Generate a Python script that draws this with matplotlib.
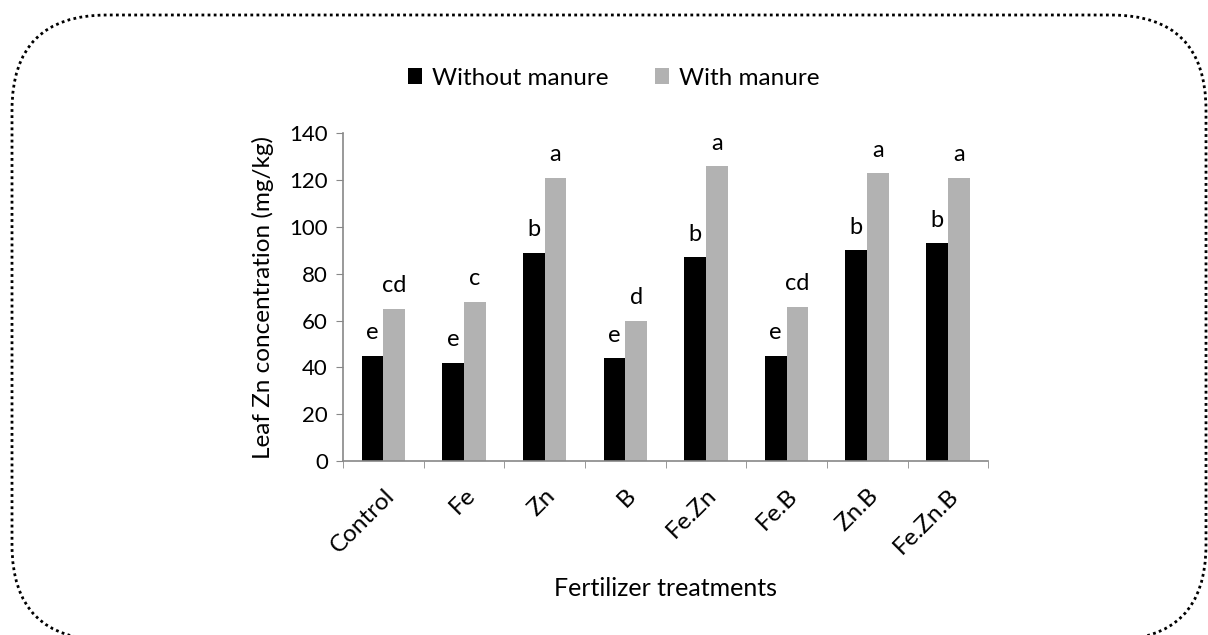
import numpy as np
import matplotlib
matplotlib.use("Agg")
import matplotlib.pyplot as plt
from matplotlib.patches import FancyBboxPatch

plt.rcParams['font.family'] = ['Lato', 'DejaVu Sans']

treatments = ['Control', 'Fe', 'Zn', 'B', 'Fe.Zn', 'Fe.B', 'Zn.B', 'Fe.Zn.B']
without_manure = [45, 42, 89, 44, 87, 45, 90, 93]
with_manure = [65, 68, 121, 60, 126, 66, 123, 121]
letters_without = ['e', 'e', 'b', 'e', 'b', 'e', 'b', 'b']
letters_with = ['cd', 'c', 'a', 'd', 'a', 'cd', 'a', 'a']

fig = plt.figure(figsize=(12.08, 6.35), dpi=100)
ax = fig.add_axes([0.284, 0.274, 0.534, 0.516])

x = np.arange(len(treatments))
w = 0.27
b1 = ax.bar(x - w/2, without_manure, w, color='black', label='Without manure')
b2 = ax.bar(x + w/2, with_manure, w, color='#b2b2b2', label='With manure')

# significance letters above bars
for rect, lab in zip(b1, letters_without):
    ax.annotate(lab, (rect.get_x() + rect.get_width()/2, rect.get_height()),
                xytext=(0, 9), textcoords='offset points', ha='center', va='bottom', fontsize=17)
for rect, lab in zip(b2, letters_with):
    ax.annotate(lab, (rect.get_x() + rect.get_width()/2, rect.get_height()),
                xytext=(0, 9), textcoords='offset points', ha='center', va='bottom', fontsize=17)

ax.set_xlim(-0.5, len(treatments) - 0.5)
ax.set_ylim(0, 140)
ax.set_yticks(np.arange(0, 141, 20))
ax.tick_params(axis='y', labelsize=16, length=5, color='#888888', direction='out', pad=6)

ax.set_xticks(x)
ax.set_xticklabels(treatments, rotation=45, ha='right', rotation_mode='anchor', fontsize=17.5)
ax.tick_params(axis='x', which='major', length=0, pad=17)
ax.set_xticks(np.arange(-0.5, len(treatments), 1), minor=True)
ax.tick_params(axis='x', which='minor', length=5, color='#888888', direction='out')

for s in ['top', 'right']:
    ax.spines[s].set_visible(False)
for s in ['left', 'bottom']:
    ax.spines[s].set_color('#888888')
    ax.spines[s].set_linewidth(1.2)

ax.set_ylabel('Leaf Zn concentration (mg/kg)', fontsize=17.5, labelpad=11)
ax.set_xlabel('Fertilizer treatments', fontsize=18, labelpad=14)

fig.legend(handles=[b1, b2], loc='center', bbox_to_anchor=(0.508, 0.877), ncol=2,
           frameon=False, fontsize=17.5, handlelength=0.6, handleheight=0.6,
           handletextpad=0.4, columnspacing=1.9)

# rounded dotted border
border = FancyBboxPatch((12, -5), 1194, 625, boxstyle='round,pad=0,rounding_size=95',
                        transform=None, fill=False, edgecolor='black',
                        linestyle=(0, (1, 1.2)), linewidth=2)
fig.patches.append(border)

fig.savefig('out.png', dpi=100)
